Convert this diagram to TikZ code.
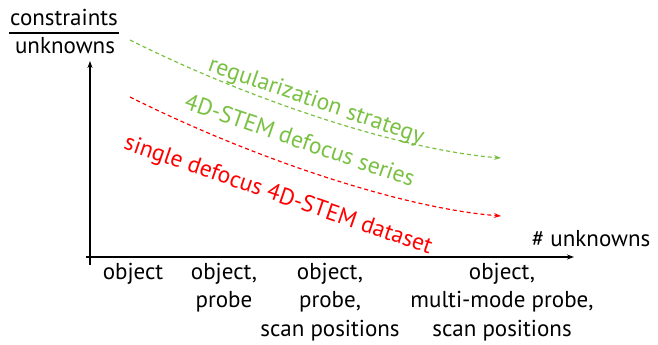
\documentclass[tikz,border=0pt]{standalone}
\usepackage{fontspec}
\setmainfont{PT Sans}
\usetikzlibrary{arrows.meta}
\definecolor{lgreen}{RGB}{122,193,67}
\definecolor{lred}{RGB}{255,0,0}
\begin{document}
\begin{tikzpicture}[x=1pt,y=1pt,
  lbl/.style={inner sep=0pt,font=\fontsize{23}{28.5}\selectfont},
  axis/.style={line width=1.4pt,-{Stealth[length=7pt,width=5pt]}},
  curve/.style={line width=1.2pt,dash pattern=on 4pt off 3pt,-{Stealth[length=7pt,width=5pt]}},
  rlab/.style={inner sep=0pt,font=\fontsize{23.5}{26}\selectfont,rotate=-19}]
\useasboundingbox (0,0) rectangle (658,-345);
% fraction label
\node[lbl] (cons) at (64,-17) {constraints};
\node[lbl] (unk) at (65,-46) {unknowns};
\coordinate (fl) at (9,-33);
\coordinate (fr) at (119,-33);
\draw[line width=1.3pt] (fl) -- (fr);
% axes
\coordinate (yb) at (90,-265);
\coordinate (yt) at (90,-61);
\coordinate (xl) at (86,-257);
\coordinate (xr) at (574,-257);
\draw[axis] (yb) -- (yt);
\draw[axis] (xl) -- (xr);
\node[lbl] (xlab) at (591,-239) {\# unknowns};
% curves
\coordinate (g0) at (130,-40);
\coordinate (g1) at (501,-158);
\coordinate (r0) at (130,-97);
\coordinate (r1) at (501,-216);
\draw[curve,lgreen] (g0) .. controls (250,-100) and (400,-150) .. (g1);
\draw[curve,lred] (r0) .. controls (250,-157) and (400,-208) .. (r1);
\node[rlab,text=lgreen] (reg) at (316,-102) {regularization strategy};
\node[rlab,text=lgreen] (ser) at (300,-140) {4D-STEM defocus series};
\node[rlab,text=lred] (sgl) at (278,-196) {single defocus 4D-STEM dataset};
% x labels
\node[lbl,anchor=north,align=center] (c1) at (133,-263) {object};
\node[lbl,anchor=north,align=center] (c2) at (224,-263) {object,\\probe};
\node[lbl,anchor=north,align=center] (c3) at (330,-263) {object,\\probe,\\scan positions};
\node[lbl,anchor=north,align=center] (c4) at (502,-263) {object,\\multi-mode probe,\\scan positions};
\end{tikzpicture}
\end{document}
